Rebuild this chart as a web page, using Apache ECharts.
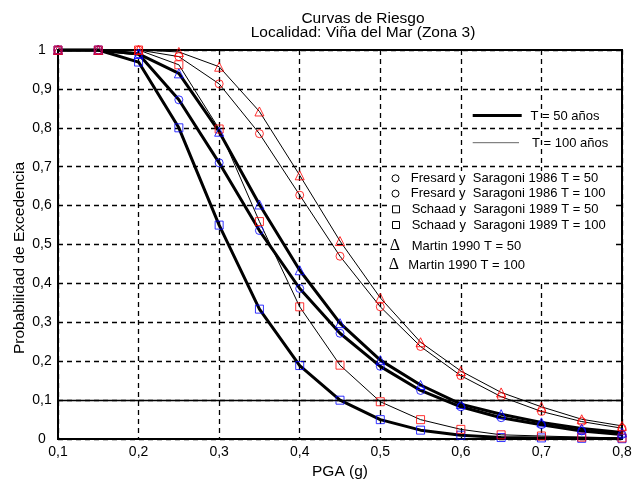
<!DOCTYPE html>
<html><head><meta charset="utf-8">
<script src="https://cdn.jsdelivr.net/npm/echarts@6/dist/echarts.min.js"></script>
<style>html,body{margin:0;padding:0;background:#fff}#c{width:640px;height:485px}</style>
</head><body><div id="c"></div>
<script>
// ---- data ----
const pga = [0.1, 0.15, 0.2, 0.25, 0.3, 0.35, 0.4, 0.45, 0.5, 0.55, 0.6, 0.65, 0.7, 0.75, 0.8];
const fresard50  = [1, 1, 0.99, 0.872, 0.71, 0.536, 0.387, 0.272, 0.187, 0.125, 0.083, 0.055, 0.037, 0.021, 0.012];
const fresard100 = [1, 1, 1, 0.983, 0.913, 0.785, 0.627, 0.47, 0.34, 0.238, 0.163, 0.109, 0.071, 0.045, 0.028];
const schaad50   = [1, 1, 0.969, 0.80, 0.55, 0.334, 0.189, 0.10, 0.05, 0.023, 0.01, 0.004, 0.003, 0.002, 0.001];
const schaad100  = [1, 1, 1, 0.962, 0.797, 0.559, 0.34, 0.19, 0.096, 0.05, 0.025, 0.011, 0.008, 0.005, 0.003];
const martin50   = [1, 1, 0.99, 0.94, 0.79, 0.603, 0.434, 0.298, 0.203, 0.139, 0.09, 0.064, 0.043, 0.027, 0.017];
const martin100  = [1, 1, 1, 0.995, 0.957, 0.842, 0.678, 0.509, 0.363, 0.249, 0.175, 0.12, 0.083, 0.051, 0.034];
const titleLines = ['Curvas de Riesgo', 'Localidad: Viña del Mar (Zona 3)'];
const xName = 'PGA (g)';
const yName = 'Probabilidad de Excedencia';
const lineLegend = ['T = 50 años', 'T = 100 años'];
const markerLegend = ['Fresard y  Saragoni 1986 T = 50', 'Fresard y  Saragoni 1986 T = 100',
  'Schaad y  Saragoni 1989 T = 50', 'Schaad y  Saragoni 1989 T = 100',
  'Martin 1990 T = 50', 'Martin 1990 T = 100'];

const FONT = 'Arial, "Liberation Sans", sans-serif';
const SERIF = '"Liberation Serif", "DejaVu Serif", serif';
const BLUE = '#0000ff', RED = '#ff0000';
const pts = ys => pga.map((x, i) => [x, ys[i]]);
const fmt = v => (v === 0 ? '0' : v === 1 ? '1' : v.toFixed(1).replace('.', ','));

const series = [];
const curves = [[fresard50, 3], [schaad50, 3], [martin50, 3], [fresard100, 1], [schaad100, 1], [martin100, 1]];
curves.forEach(([ys, w], i) => {
  const s = {
    type: 'line', data: pts(ys), showSymbol: false, symbol: 'none', silent: true,
    lineStyle: { color: '#000', width: w }, z: 3, animation: false
  };
  if (i === 0) {
    s.markLine = {
      silent: true, symbol: 'none', label: { show: false }, animation: false,
      lineStyle: { color: '#000', width: 1.3, type: 'solid' },
      data: [{ yAxis: 0.1 }]
    };
  }
  series.push(s);
});
const marks = [
  [fresard50, 'circle', BLUE, 8], [fresard100, 'circle', RED, 8],
  [schaad50, 'rect', BLUE, 8], [schaad100, 'rect', RED, 8],
  [martin50, 'triangle', BLUE, 9], [martin100, 'triangle', RED, 9]
];
marks.forEach(([ys, sym, col, sz]) => {
  series.push({
    type: 'scatter', data: pts(ys), symbol: sym, symbolSize: sz, silent: true, z: 4, animation: false,
    itemStyle: { color: 'rgba(0,0,0,0)', borderColor: col, borderWidth: 1 }
  });
});

function txt(text, x, y, size, align, extra, family) {
  return Object.assign({
    type: 'text', x: x, y: y, z: 60,
    style: { text: text, font: size + 'px ' + (family || FONT), fill: '#000',
      textAlign: align, align: align, textVerticalAlign: 'middle', verticalAlign: 'middle' }
  }, extra || {});
}
const legY = [178.3, 193.6, 209.3, 225, 246.7, 265.7];
const legX = [410.7, 410.7, 411.7, 411.7, 411.7, 408.3];
const graphics = [
  txt(titleLines[0], 363, 18.5, 15.5, 'center'),
  txt(titleLines[1], 363, 32.8, 15.5, 'center'),
  txt(yName, 19.5, 258, 15.5, 'center', { rotation: Math.PI / 2 }),
  { type: 'rect', z: 50, shape: { x: 388, y: 171, width: 225, height: 109 }, style: { fill: '#fff' } },
  { type: 'line', z: 60, shape: { x1: 472.7, y1: 115.5, x2: 521.7, y2: 115.5 }, style: { stroke: '#000', lineWidth: 3 } },
  { type: 'line', z: 60, shape: { x1: 472.7, y1: 142.7, x2: 519, y2: 142.7 }, style: { stroke: '#666', lineWidth: 1 } },
  txt(lineLegend[0], 530.5, 116, 13, 'left'),
  txt(lineLegend[1], 532, 143, 13, 'left'),
  { type: 'circle', z: 60, shape: { cx: 395.5, cy: 178.3, r: 3.5 }, style: { fill: 'none', stroke: '#000', lineWidth: 1 } },
  { type: 'circle', z: 60, shape: { cx: 395.5, cy: 193.6, r: 3.5 }, style: { fill: 'none', stroke: '#000', lineWidth: 1 } },
  { type: 'rect', z: 60, shape: { x: 392.5, y: 205.8, width: 7, height: 7 }, style: { fill: 'none', stroke: '#000', lineWidth: 1 } },
  { type: 'rect', z: 60, shape: { x: 392.5, y: 221.5, width: 7, height: 7 }, style: { fill: 'none', stroke: '#000', lineWidth: 1 } },
  txt('Δ', 395, 246, 16, 'center', null, SERIF),
  txt('Δ', 394, 265, 16, 'center', null, SERIF)
];
markerLegend.forEach((t, i) => graphics.push(txt(t, legX[i], legY[i], 13, 'left')));

const chart = echarts.init(document.getElementById('c'), null, { renderer: 'canvas' });
chart.setOption({
  animation: false,
  backgroundColor: '#fff',
  textStyle: { fontFamily: FONT },
  grid: { left: 58, right: 18, top: 50, bottom: 43, show: true, borderColor: '#000', borderWidth: 2, backgroundColor: 'transparent' },
  xAxis: {
    type: 'value', min: 0.1, max: 0.8, interval: 0.1,
    name: xName, nameLocation: 'middle', nameGap: 22,
    nameTextStyle: { fontSize: 15.5, color: '#000', fontFamily: FONT },
    axisLine: { show: true, lineStyle: { color: '#000', width: 2 } },
    axisTick: { show: false },
    axisLabel: { color: '#000', fontSize: 14, margin: 6, fontFamily: FONT, formatter: fmt },
    splitLine: { show: true, lineStyle: { color: '#000', width: 1.3, type: [5, 4] } }
  },
  yAxis: {
    type: 'value', min: 0, max: 1, interval: 0.1,
    axisLine: { show: true, lineStyle: { color: '#000', width: 2 } },
    axisTick: { show: false },
    axisLabel: { color: '#000', fontSize: 14, margin: 16, align: 'center', fontFamily: FONT, formatter: fmt },
    splitLine: { show: true, lineStyle: { color: '#000', width: 1.3, type: [5, 4] } }
  },
  graphic: graphics,
  series: series
});
</script></body></html>
